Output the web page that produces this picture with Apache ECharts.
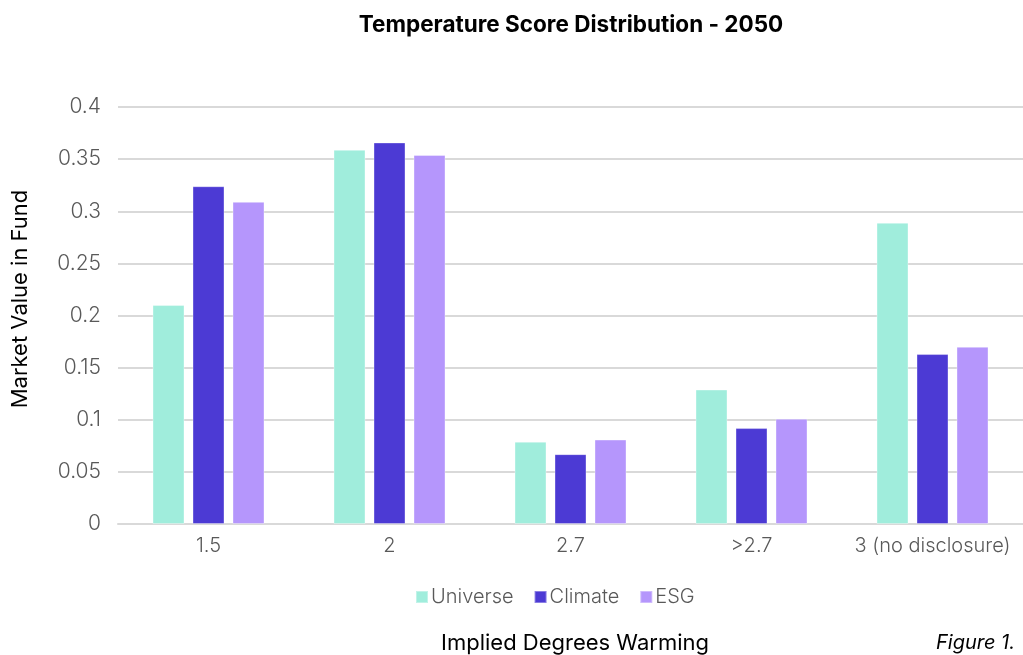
<!DOCTYPE html>
<html><head><meta charset="utf-8">
<script src="https://cdn.jsdelivr.net/npm/echarts@6/dist/echarts.min.js"></script>
<style>html,body{margin:0;padding:0;background:#fff}#c{width:1023px;height:655px}</style>
</head><body><div id="c"></div>
<script>
const categories = ['1.5', '2', '2.7', '>2.7', '3 (no disclosure)'];
const universe = [0.21, 0.359, 0.079, 0.129, 0.289];
const climate = [0.324, 0.366, 0.067, 0.092, 0.163];
const esg = [0.309, 0.354, 0.081, 0.101, 0.17];
const yTicks = { min: 0, max: 0.4, interval: 0.05 };

const FONT = 'Inter, "Noto Sans", sans-serif';
const chart = echarts.init(document.getElementById('c'));
const mk = (name, data, color) => ({
  name, type: 'bar', data, barWidth: 32, barGap: '25%',
  itemStyle: { color, borderColor: 'rgba(255,255,255,0.35)', borderWidth: 1 }
});
chart.setOption({
  animation: false,
  textStyle: { fontFamily: FONT },
  title: {
    text: 'Temperature Score Distribution - 2050', left: 566, textAlign: 'center', top: 9,
    textStyle: { fontFamily: FONT, fontWeight: 'bold', fontSize: 22.5, color: '#000' }
  },
  legend: {
    data: ['Universe', 'Climate', 'ESG'], left: 410, top: 582, itemWidth: 12, itemHeight: 12,
    itemGap: 20, icon: 'rect',
    textStyle: { fontFamily: FONT, fontSize: 20, fontWeight: 300, color: '#595959', padding: [0, 0, 0, -2] }
  },
  grid: { left: 118, top: 107, width: 909, height: 417, containLabel: false },
  xAxis: {
    type: 'category', data: categories,
    axisLine: { lineStyle: { color: '#d9d9d9', width: 2 } },
    axisTick: { show: false },
    axisLabel: { interval: 0, hideOverlap: false, color: '#595959', fontSize: 20, fontWeight: 300, margin: 12, fontFamily: FONT }
  },
  yAxis: {
    type: 'value', min: yTicks.min, max: yTicks.max, interval: yTicks.interval,
    axisLine: { show: false }, axisTick: { show: false },
    splitLine: { lineStyle: { color: '#d9d9d9', width: 2 } },
    axisLabel: {
      color: '#595959', fontSize: 21, fontWeight: 300, margin: 17, fontFamily: FONT,
      formatter: v => String(+v.toFixed(2))
    }
  },
  graphic: [
    { type: 'text', position: [575, 643], style: { text: 'Implied Degrees Warming', fontFamily: FONT, fontSize: 22, fill: '#000', textAlign: 'center', textVerticalAlign: 'middle' } },
    { type: 'text', position: [1015, 643], style: { text: 'Figure 1.', fontFamily: FONT, fontSize: 20, fontStyle: 'italic', fill: '#000', textAlign: 'right', textVerticalAlign: 'middle' } },
    { type: 'text', position: [20, 299], rotation: Math.PI / 2, style: { text: 'Market Value in Fund', fontFamily: FONT, fontSize: 22, fill: '#000', textAlign: 'center', textVerticalAlign: 'middle' } }
  ],
  series: [
    mk('Universe', universe, '#A0EDDC'),
    mk('Climate', climate, '#4C3AD4'),
    mk('ESG', esg, '#B596FC')
  ]
});
</script></body></html>
